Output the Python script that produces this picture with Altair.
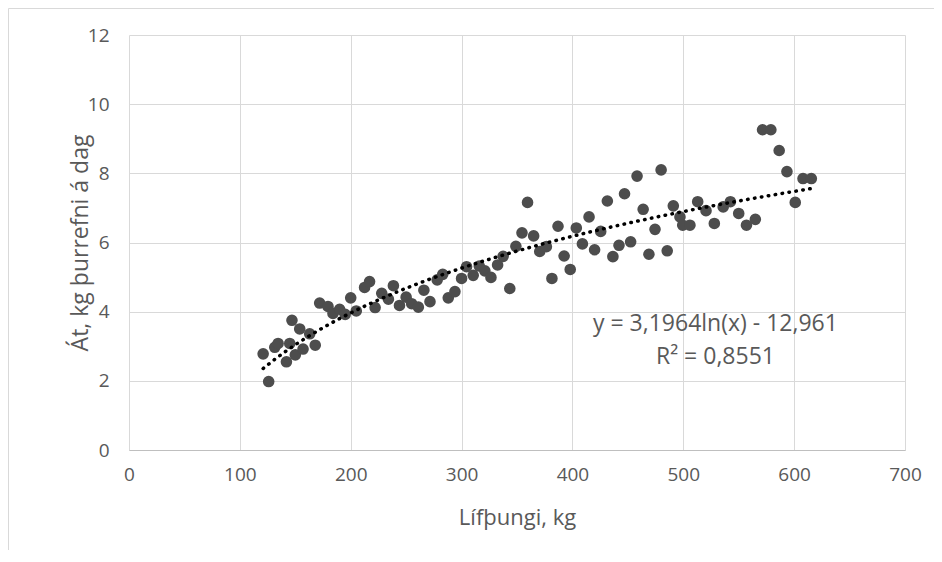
import altair as alt
import pandas as pd

# Live weight (kg) and daily dry-matter intake (kg)
weight = [121, 126, 131.5, 134.5, 142, 145, 147, 150, 154, 157, 163, 168, 172, 179.5, 184,
          190, 195, 200, 205, 212.5, 217, 222, 228, 234, 238.5, 244, 250, 255, 261, 266,
          271.5, 278, 283, 288, 294, 300, 304.5, 310.5, 316, 321, 326.5, 332.5, 337.5, 343.5,
          349, 354.5, 359.5, 365, 370.5, 376.5, 381.5, 387, 392.5, 398, 403.5, 409, 415, 420,
          425.5, 431.5, 436.5, 442, 447, 452.5, 458.3, 463.8, 469, 474.5, 480, 485.5, 491,
          497, 499.5, 506, 513, 520.5, 528, 536, 542.5, 550, 557, 565, 571.5, 579, 586.5,
          593.5, 601, 608, 615.5]
intake = [2.78, 1.98, 2.97, 3.08, 2.55, 3.08, 3.75, 2.75, 3.50, 2.92, 3.36, 3.03, 4.25, 4.15, 3.95,
          4.07, 3.92, 4.40, 4.02, 4.70, 4.87, 4.12, 4.53, 4.36, 4.75, 4.18, 4.42, 4.23, 4.13, 4.62,
          4.29, 4.92, 5.08, 4.40, 4.58, 4.96, 5.30, 5.05, 5.32, 5.18, 4.99, 5.35, 5.60, 4.67,
          5.89, 6.28, 7.16, 6.19, 5.74, 5.88, 4.96, 6.47, 5.61, 5.22, 6.42, 5.96, 6.74, 5.79,
          6.32, 7.20, 5.59, 5.92, 7.41, 6.02, 7.92, 6.96, 5.66, 6.38, 8.10, 5.76, 7.06,
          6.74, 6.50, 6.50, 7.18, 6.92, 6.55, 7.03, 7.18, 6.84, 6.50, 6.67, 9.26, 9.26, 8.66,
          8.05, 7.16, 7.85, 7.85]

x_ticks = [0, 100, 200, 300, 400, 500, 600, 700]
y_ticks = [0, 2, 4, 6, 8, 10, 12]

eq_labels = ["y = 3,1964ln(x) - 12,961", "R² = 0,8551"]
eq_x = [529, 529]
eq_y = [3.64, 2.69]

df = pd.DataFrame({"weight": weight, "intake": intake})
ann = pd.DataFrame({"x": eq_x, "y": eq_y, "label": eq_labels})
one = pd.DataFrame({"k": [0]})

W, H = 776, 415
FONT = "Open Sans"
GRAY = "#595959"

xscale = alt.Scale(domain=[0, 700], nice=False, zero=False)
yscale = alt.Scale(domain=[0, 12], nice=False)

xaxis = alt.Axis(values=x_ticks, title="Lífþungi, kg", grid=True, gridColor="#d9d9d9",
                 domainColor="#bfbfbf", ticks=False, labelPadding=15, labelFontSize=19,
                 labelColor=GRAY, labelFont=FONT, titleFont=FONT, titleFontSize=22,
                 titleFontWeight="normal", titleColor=GRAY, titleX=W / 2, titleY=67,
                 titleBaseline="middle", labelFlush=False)
yaxis = alt.Axis(values=y_ticks, title="Át, kg þurrefni á dag", grid=True, gridColor="#d9d9d9",
                 domain=False, ticks=False, labelPadding=20, labelFontSize=19,
                 labelColor=GRAY, labelFont=FONT, titleFont=FONT, titleFontSize=23,
                 titleFontWeight="normal", titleColor=GRAY, titleX=-49, titleY=H / 2,
                 titleAngle=270, titleBaseline="middle", labelFlush=False)

points = alt.Chart(df).mark_circle(size=135, color="#4d4d4d", opacity=1).encode(
    x=alt.X("weight:Q", scale=xscale, axis=xaxis),
    y=alt.Y("intake:Q", scale=yscale, axis=yaxis),
)

trend = alt.Chart(df).transform_regression("weight", "intake", method="log").mark_line(
    color="black", strokeWidth=3.5, strokeDash=[0.5, 6.5], strokeCap="round"
).encode(
    x=alt.X("weight:Q", scale=xscale),
    y=alt.Y("intake:Q", scale=yscale),
)

text = alt.Chart(ann).mark_text(font=FONT, fontSize=23, color=GRAY, align="center",
                                baseline="middle").encode(
    x=alt.X("x:Q", scale=xscale),
    y=alt.Y("y:Q", scale=yscale),
    text="label:N",
)

border_top = alt.Chart(one).mark_rule(color="#d9d9d9", strokeWidth=1).encode(
    x=alt.value(-120.5), x2=alt.value(W + 40), y=alt.value(-26.5))
border_left = alt.Chart(one).mark_rule(color="#d9d9d9", strokeWidth=1).encode(
    x=alt.value(-120.5), y=alt.value(-26.5), y2=alt.value(H + 110))

chart = alt.layer(points, trend, text, border_top, border_left).properties(
    width=W, height=H,
    autosize=alt.AutoSizeParams(type="none"),
    padding={"left": 121, "top": 27, "right": 29, "bottom": 100},
).configure_view(strokeOpacity=0)

chart.save("out.html", embed_options={"renderer": "svg", "actions": False})
